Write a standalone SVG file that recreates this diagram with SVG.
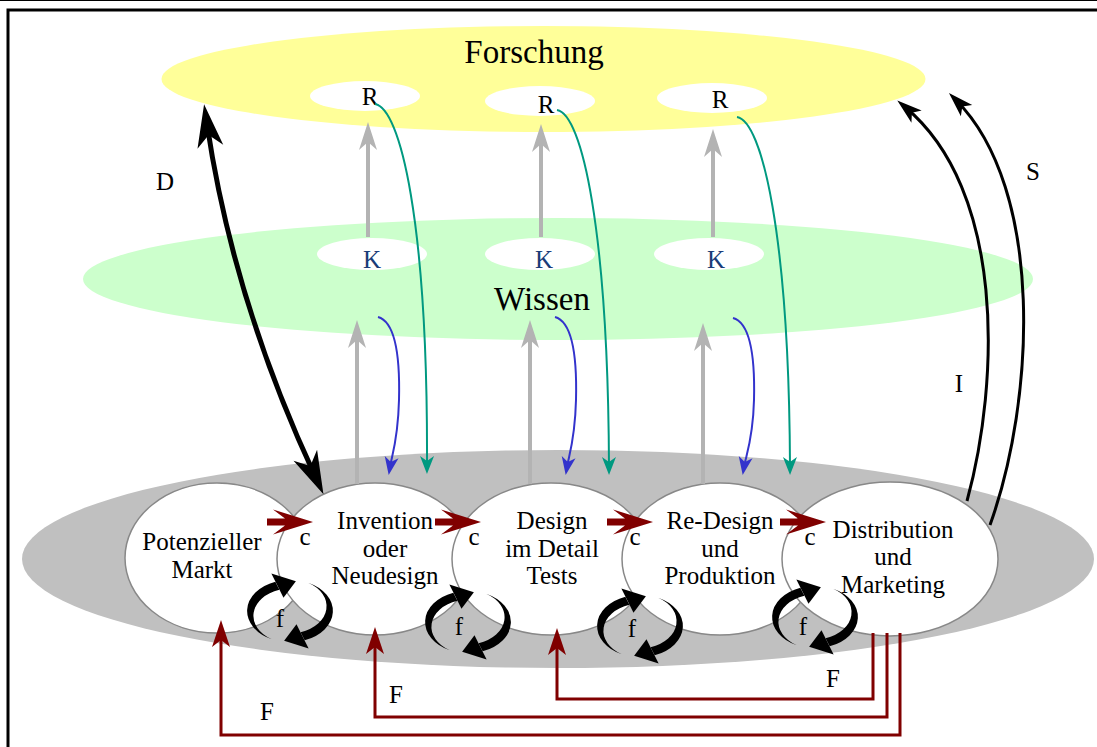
<svg xmlns="http://www.w3.org/2000/svg" width="1097" height="747" viewBox="0 0 1097 747">
<style>
text{font-family:"Liberation Serif","Times New Roman",serif;fill:#000;text-anchor:middle}
.big{font-size:33px}
.lbl{font-size:25px}
.node{font-size:25px}
.k{fill:#1a3c78}
.circ{fill:#fff;stroke:#888;stroke-width:1.5}
.gray{stroke:#b3b3b3;stroke-width:4;fill:none}
.teal{stroke:#009980;stroke-width:2;fill:none}
.blue{stroke:#3333cc;stroke-width:2;fill:none}
.red{stroke:#800000;stroke-width:3;fill:none;stroke-linejoin:miter}
.blk{stroke:#000;stroke-width:3;fill:none}
marker{overflow:visible}
</style>
<defs>
<marker id="mGray" markerUnits="userSpaceOnUse" orient="auto" overflow="visible" markerWidth="1" markerHeight="1"><path d="M12,0 L-16,-9 L-8,0 L-16,9 Z" fill="#b3b3b3"/></marker>
<marker id="mTeal" markerUnits="userSpaceOnUse" orient="auto" overflow="visible" markerWidth="1" markerHeight="1"><path d="M8,0 L-10,-7 L-5,0 L-10,7 Z" fill="#009980"/></marker>
<marker id="mBlue" markerUnits="userSpaceOnUse" orient="auto" overflow="visible" markerWidth="1" markerHeight="1"><path d="M8,0 L-10,-7 L-5,0 L-10,7 Z" fill="#3333cc"/></marker>
<marker id="mRed" markerUnits="userSpaceOnUse" orient="auto" overflow="visible" markerWidth="1" markerHeight="1"><path d="M10,0 L-17,-9 L-10,0 L-17,9 Z" fill="#800000"/></marker>
<marker id="mBlk" markerUnits="userSpaceOnUse" orient="auto" overflow="visible" markerWidth="1" markerHeight="1"><path d="M10,0 L-15,-8 L-9,0 L-15,8 Z" fill="#000"/></marker>
<marker id="mD" markerUnits="userSpaceOnUse" orient="auto-start-reverse" overflow="visible" markerWidth="1" markerHeight="1"><path d="M20,0 L-23,-13 L-11,0 L-23,13 Z" fill="#000"/></marker>
<path id="carr" d="M0,-3.5 H18 L6,-12.5 L46,0 L6,12.5 L18,3.5 H0 Z" fill="#800000"/>
<g id="fhalf" fill="#000">
<path d="M-16.9,36.3 A40,40 0 0 1 -13.7,-37.6 L-9.9,-27.2 A35,35 0 0 0 -16.9,36.3 Z"/>
<path d="M-17.4,-48 L5.5,-38 L-6.1,-16.9 Z"/>
</g>
<g id="ficon"><use href="#fhalf"/><use href="#fhalf" transform="rotate(180)"/></g>
</defs>

<rect width="1097" height="747" fill="#fff"/>
<g id="frame" fill="none" stroke="#000">
<line x1="0" y1="0.5" x2="1097" y2="0.5" stroke-width="1"/>
<path d="M8,747 V10 H1097" stroke-width="3"/>
</g>

<g id="layers">
<ellipse cx="543.5" cy="79" rx="382" ry="53" fill="#ffff99"/>
<ellipse cx="558" cy="279" rx="475" ry="61" fill="#ccffcc"/>
<ellipse cx="558" cy="559" rx="536" ry="109" fill="#c0c0c0"/>
<text class="big" x="534" y="63">Forschung</text>
<text class="big" x="542" y="310">Wissen</text>
</g>

<g id="R1"><ellipse cx="365" cy="96" rx="55" ry="15" fill="#fff"/><text class="lbl" x="370" y="105">R</text></g>
<g id="R2"><ellipse cx="540" cy="101" rx="55" ry="15" fill="#fff"/><text class="lbl" x="546" y="113">R</text></g>
<g id="R3"><ellipse cx="712" cy="98" rx="55" ry="15" fill="#fff"/><text class="lbl" x="720" y="108">R</text></g>
<g id="K1"><ellipse cx="372" cy="254" rx="55" ry="16" fill="#fff"/><text class="lbl k" x="372" y="268">K</text></g>
<g id="K2"><ellipse cx="540" cy="254" rx="55" ry="16" fill="#fff"/><text class="lbl k" x="544" y="268">K</text></g>
<g id="K3"><ellipse cx="709" cy="254" rx="55" ry="16" fill="#fff"/><text class="lbl k" x="716" y="268">K</text></g>

<g id="n1"><ellipse class="circ" cx="217" cy="558" rx="92" ry="75"/></g>
<g id="n2"><ellipse class="circ" cx="375" cy="559" rx="98" ry="76"/></g>
<g id="n3"><ellipse class="circ" cx="551" cy="559" rx="99" ry="76"/></g>
<g id="n4"><ellipse class="circ" cx="720" cy="559" rx="98" ry="76"/></g>
<g id="n5"><ellipse class="circ" cx="890" cy="559" rx="108" ry="77"/></g>

<g id="connectors">
<path class="gray" d="M368,237 V134" marker-end="url(#mGray)"/>
<path class="gray" d="M541,237 V136" marker-end="url(#mGray)"/>
<path class="gray" d="M713,237 V141" marker-end="url(#mGray)"/>
<path class="gray" d="M357,484 V332" marker-end="url(#mGray)"/>
<path class="gray" d="M530,484 V332" marker-end="url(#mGray)"/>
<path class="gray" d="M703,484 V335" marker-end="url(#mGray)"/>
<path class="teal" d="M375,104 C400,108 428,220 427,466" marker-end="url(#mTeal)"/>
<path class="teal" d="M557,110 C582,114 608,230 609,467" marker-end="url(#mTeal)"/>
<path class="teal" d="M737,117 C762,121 789,235 790,467" marker-end="url(#mTeal)"/>
<path class="blue" d="M378,317 C396,322 400,360 399,400 C398,440 392,455 390,467" marker-end="url(#mBlue)"/>
<path class="blue" d="M555,317 C573,322 577,360 576,400 C575,440 569,455 567,467" marker-end="url(#mBlue)"/>
<path class="blue" d="M733,318 C751,323 755,360 754,400 C753,440 746,455 744,467" marker-end="url(#mBlue)"/>
<path d="M207,124 Q233,300 315,476" fill="none" stroke="#000" stroke-width="5" marker-start="url(#mD)" marker-end="url(#mD)"/>
<path class="blk" d="M967,501 C1000,380 1005,190 905,107" marker-end="url(#mBlk)"/>
<path class="blk" d="M990,525 C1035,400 1045,190 956,100" marker-end="url(#mBlk)"/>
<path class="red" d="M873,633 V699 H557 V638" marker-end="url(#mRed)"/>
<path class="red" d="M887,633 V717 H375 V637" marker-end="url(#mRed)"/>
<path class="red" d="M900,633 V735 H221 V630" marker-end="url(#mRed)"/>
<use href="#carr" x="267" y="522"/>
<use href="#carr" x="435" y="522"/>
<use href="#carr" x="607" y="522"/>
<use href="#carr" x="780" y="522"/>
<use href="#ficon" transform="translate(290,611) scale(1.07,0.78)"/>
<use href="#ficon" transform="translate(468,622) scale(1.07,0.78)"/>
<use href="#ficon" transform="translate(640,626) scale(1.07,0.78)"/>
<use href="#ficon" transform="translate(815,617) scale(1.07,0.78)"/>
<text class="lbl" x="165" y="190">D</text>
<text class="lbl" x="959" y="392">I</text>
<text class="lbl" x="1033" y="180">S</text>
<text class="lbl" x="833" y="687">F</text>
<text class="lbl" x="396" y="703">F</text>
<text class="lbl" x="267" y="720">F</text>
<text class="lbl" x="305" y="545">c</text>
<text class="lbl" x="474" y="545">c</text>
<text class="lbl" x="635" y="545">c</text>
<text class="lbl" x="810" y="545">c</text>
<text class="lbl" x="280" y="627">f</text>
<text class="lbl" x="459" y="635">f</text>
<text class="lbl" x="632" y="637">f</text>
<text class="lbl" x="803" y="635">f</text>
</g>

<g id="n1-label"><text class="node" x="202" y="550">Potenzieller</text><text class="node" x="202" y="578">Markt</text></g>
<g id="n2-label"><text class="node" x="385" y="529">Invention</text><text class="node" x="385" y="556.7">oder</text><text class="node" x="385" y="584.4">Neudesign</text></g>
<g id="n3-label"><text class="node" x="552" y="529">Design</text><text class="node" x="552" y="556.7">im Detail</text><text class="node" x="552" y="584.4">Tests</text></g>
<g id="n4-label"><text class="node" x="720" y="529">Re-Design</text><text class="node" x="720" y="556.7">und</text><text class="node" x="720" y="584.4">Produktion</text></g>
<g id="n5-label"><text class="node" x="893" y="537.5">Distribution</text><text class="node" x="893" y="565.2">und</text><text class="node" x="893" y="592.9">Marketing</text></g>
</svg>
